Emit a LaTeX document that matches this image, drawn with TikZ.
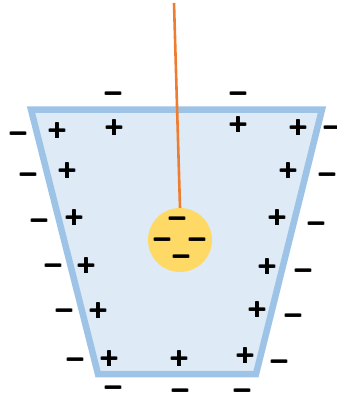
\documentclass[tikz,border=0pt]{standalone}
\usepackage{fontspec}
\newfontfamily\signfont{DejaVu Sans}[BoldFont={DejaVu Sans Bold}]
\definecolor{edgeblue}{HTML}{9DC3E6}
\definecolor{fillblue}{HTML}{DEEBF7}
\definecolor{ballyellow}{HTML}{FFD966}
\definecolor{wireorange}{HTML}{ED7D31}
\newcommand\fatsign[1]{\rlap{#1}\kern0.5pt\rlap{#1}\kern0.5pt#1}
\begin{document}
\begin{tikzpicture}[x=1pt,y=-1pt,
  sgn/.style={font=\signfont\bfseries\fontsize{25}{25}\selectfont, inner sep=0pt, text height=12pt, text depth=-4.6pt, anchor=center},
  possign/.style={sgn},
  negsign/.style={sgn}]
\useasboundingbox (0,0) rectangle (337,396);
\clip (0,0) rectangle (337,396);
% container
\draw[edgeblue, fill=fillblue, line width=6.5pt, line join=miter]
  (31,109.5) coordinate (tl) -- (322,109.5) coordinate (tr) -- (256,374) coordinate (br) -- (98,374) coordinate (bl) -- cycle;
% wire and ball
\coordinate (top) at (174,3);
\node[circle, fill=ballyellow, minimum size=64pt, inner sep=0pt] (ball) at (180,240) {};
\draw[wireorange, line width=2.6pt] (top) -- (ball.north);
% charges on ball
\node[negsign] (b1) at (177,220) {\fatsign{−}};
\node[negsign] (b2) at (162,241) {\fatsign{−}};
\node[negsign] (b3) at (197,241) {\fatsign{−}};
\node[negsign] (b4) at (181,258) {\fatsign{−}};
% inner plus
\node[possign] (p1) at (57,132) {\fatsign{+}};
\node[possign] (p2) at (114,129) {\fatsign{+}};
\node[possign] (p3) at (67,172) {\fatsign{+}};
\node[possign] (p4) at (74,219) {\fatsign{+}};
\node[possign] (p5) at (86,267) {\fatsign{+}};
\node[possign] (p6) at (98,312) {\fatsign{+}};
\node[possign] (p7) at (109,360) {\fatsign{+}};
\node[possign] (p8) at (179,360) {\fatsign{+}};
\node[possign] (p9) at (245,357) {\fatsign{+}};
\node[possign] (p10) at (257,311) {\fatsign{+}};
\node[possign] (p11) at (267,268) {\fatsign{+}};
\node[possign] (p12) at (277,219) {\fatsign{+}};
\node[possign] (p13) at (288,172) {\fatsign{+}};
\node[possign] (p14) at (298,129) {\fatsign{+}};
\node[possign] (p15) at (238,126) {\fatsign{+}};
% outer minus
\node[negsign] (m1) at (113,95) {\fatsign{−}};
\node[negsign] (m2) at (238,95) {\fatsign{−}};
\node[negsign] (m3) at (18,135) {\fatsign{−}};
\node[negsign] (m4) at (28,176) {\fatsign{−}};
\node[negsign] (m5) at (39,222) {\fatsign{−}};
\node[negsign] (m6) at (53,267) {\fatsign{−}};
\node[negsign] (m7) at (64,312) {\fatsign{−}};
\node[negsign] (m8) at (75,361) {\fatsign{−}};
\node[negsign] (m9) at (113,389) {\fatsign{−}};
\node[negsign] (m10) at (180,392) {\fatsign{−}};
\node[negsign] (m11) at (242,392) {\fatsign{−}};
\node[negsign] (m12) at (279,363) {\fatsign{−}};
\node[negsign] (m13) at (293,317) {\fatsign{−}};
\node[negsign] (m14) at (303,272) {\fatsign{−}};
\node[negsign] (m15) at (316,225) {\fatsign{−}};
\node[negsign] (m16) at (327,176) {\fatsign{−}};
\node[negsign] (m17) at (332,129) {\fatsign{−}};
\end{tikzpicture}
\end{document}
